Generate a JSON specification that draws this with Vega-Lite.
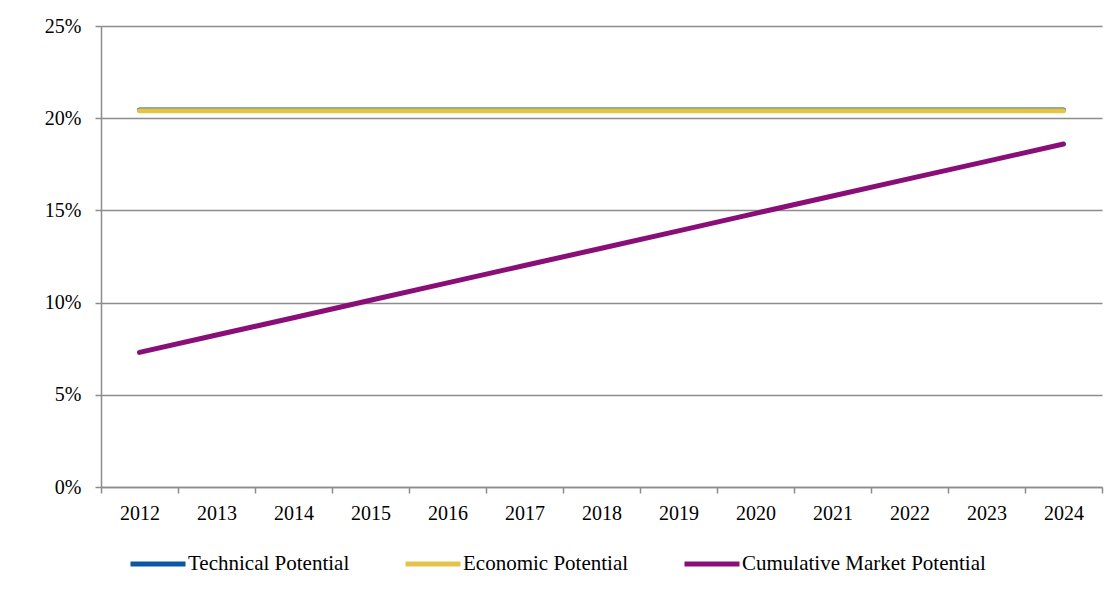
{
  "$schema": "https://vega.github.io/schema/vega-lite/v6.json",
  "width": 1001,
  "height": 461,
  "autosize": {"type": "none"},
  "padding": {"left": 101, "top": 26, "right": 16, "bottom": 107},
  "background": "white",
  "config": {
    "view": {"stroke": null},
    "font": "Liberation Serif",
    "axis": {"labelFont": "Liberation Serif", "labelFontSize": 20, "labelColor": "#000000", "domainColor": "#8c8c8c", "tickColor": "#8c8c8c", "gridColor": "#8c8c8c", "domainWidth": 1.5, "tickWidth": 1.5, "gridWidth": 1.5, "tickSize": 6, "title": null},
    "legend": {"labelFont": "Liberation Serif", "labelFontSize": 21, "labelColor": "#000000", "labelLimit": 500}
  },
  "data": {"values": [
    {"year": "2012", "series": "Technical Potential", "v": 0.2045},
    {"year": "2013", "series": "Technical Potential", "v": 0.2045},
    {"year": "2014", "series": "Technical Potential", "v": 0.2045},
    {"year": "2015", "series": "Technical Potential", "v": 0.2045},
    {"year": "2016", "series": "Technical Potential", "v": 0.2045},
    {"year": "2017", "series": "Technical Potential", "v": 0.2045},
    {"year": "2018", "series": "Technical Potential", "v": 0.2045},
    {"year": "2019", "series": "Technical Potential", "v": 0.2045},
    {"year": "2020", "series": "Technical Potential", "v": 0.2045},
    {"year": "2021", "series": "Technical Potential", "v": 0.2045},
    {"year": "2022", "series": "Technical Potential", "v": 0.2045},
    {"year": "2023", "series": "Technical Potential", "v": 0.2045},
    {"year": "2024", "series": "Technical Potential", "v": 0.2045},
    {"year": "2012", "series": "Economic Potential", "v": 0.204},
    {"year": "2013", "series": "Economic Potential", "v": 0.204},
    {"year": "2014", "series": "Economic Potential", "v": 0.204},
    {"year": "2015", "series": "Economic Potential", "v": 0.204},
    {"year": "2016", "series": "Economic Potential", "v": 0.204},
    {"year": "2017", "series": "Economic Potential", "v": 0.204},
    {"year": "2018", "series": "Economic Potential", "v": 0.204},
    {"year": "2019", "series": "Economic Potential", "v": 0.204},
    {"year": "2020", "series": "Economic Potential", "v": 0.204},
    {"year": "2021", "series": "Economic Potential", "v": 0.204},
    {"year": "2022", "series": "Economic Potential", "v": 0.204},
    {"year": "2023", "series": "Economic Potential", "v": 0.204},
    {"year": "2024", "series": "Economic Potential", "v": 0.204},
    {"year": "2012", "series": "Cumulative Market Potential", "v": 0.0730},
    {"year": "2013", "series": "Cumulative Market Potential", "v": 0.0824},
    {"year": "2014", "series": "Cumulative Market Potential", "v": 0.0918},
    {"year": "2015", "series": "Cumulative Market Potential", "v": 0.1013},
    {"year": "2016", "series": "Cumulative Market Potential", "v": 0.1107},
    {"year": "2017", "series": "Cumulative Market Potential", "v": 0.1201},
    {"year": "2018", "series": "Cumulative Market Potential", "v": 0.1295},
    {"year": "2019", "series": "Cumulative Market Potential", "v": 0.1389},
    {"year": "2020", "series": "Cumulative Market Potential", "v": 0.1484},
    {"year": "2021", "series": "Cumulative Market Potential", "v": 0.1578},
    {"year": "2022", "series": "Cumulative Market Potential", "v": 0.1672},
    {"year": "2023", "series": "Cumulative Market Potential", "v": 0.1766},
    {"year": "2024", "series": "Cumulative Market Potential", "v": 0.1860}
  ]},
  "encoding": {
    "x": {"field": "year", "type": "ordinal", "bandPosition": 0.5,
          "scale": {"type": "band", "paddingInner": 0, "paddingOuter": 0},
          "axis": {"labelAngle": 0, "tickBand": "extent", "labelPadding": 10, "grid": false}},
    "y": {"field": "v", "type": "quantitative",
          "scale": {"domain": [0, 0.25], "nice": false},
          "axis": {"values": [0, 0.05, 0.1, 0.15, 0.2, 0.25], "format": ".0%", "labelPadding": 14, "grid": true}},
    "color": {"field": "series", "type": "nominal",
              "scale": {"domain": ["Technical Potential", "Economic Potential", "Cumulative Market Potential"], "range": ["#0a57a3", "#e3c448", "#8a0e78"]},
              "legend": {"title": null, "orient": "none", "direction": "horizontal", "legendX": 27, "legendY": 508,
                         "symbolType": "stroke", "symbolSize": 3025, "symbolStrokeWidth": 5, "labelOffset": 0, "columnPadding": 45}}
  },
  "layer": [
    {"transform": [{"filter": "datum.series === 'Technical Potential'"}],
     "mark": {"type": "line", "strokeWidth": 5, "strokeCap": "round"}},
    {"transform": [{"filter": "datum.series === 'Economic Potential'"}],
     "mark": {"type": "line", "strokeWidth": 5, "strokeCap": "round"}},
    {"transform": [{"filter": "datum.series === 'Cumulative Market Potential'"}],
     "mark": {"type": "line", "strokeWidth": 5, "strokeCap": "round"}}
  ]
}
